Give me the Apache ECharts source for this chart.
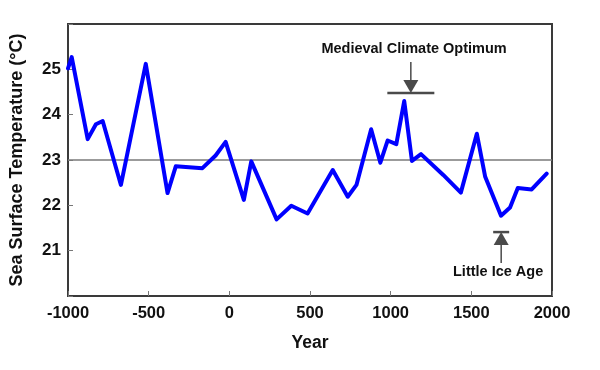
<!DOCTYPE html>
<html>
<head>
<meta charset="utf-8">
<script src="https://cdn.jsdelivr.net/npm/echarts@6/dist/echarts.min.js"></script>
<style>
html,body{margin:0;padding:0;background:#fff;}
#chart{width:600px;height:370px;}
</style>
</head>
<body>
<div id="chart"></div>
<script>
// ---- data ----
const years = [-1000, -977, -878, -827, -785, -672, -518, -383, -332, -167, -85, -23, 90, 136, 293, 384, 485,
  641, 734, 788, 879, 936, 981, 1035, 1084, 1132, 1188, 1326, 1435, 1534, 1586, 1684, 1740, 1788, 1874, 1967];
const temps = [25.02, 25.27, 23.46, 23.79, 23.86, 22.45, 25.12, 22.27, 22.86, 22.82, 23.10, 23.40, 22.12, 22.97, 21.69, 21.99, 21.82,
  22.78, 22.19, 22.45, 23.68, 22.94, 23.43, 23.35, 24.30, 22.98, 23.13, 22.67, 22.28, 23.58, 22.63, 21.77, 21.95, 22.38, 22.35, 22.70];
const xTickValues = [-1000, -500, 0, 500, 1000, 1500, 2000];
const yTickValues = [21, 22, 23, 24, 25];
const yRange = [20, 26];
const referenceTemp = [23];

const annotationTexts = ['Medieval Climate Optimum', 'Little Ice Age'];
const annotationYears = [1125, 1685];
const annotationBarTemps = [24.48, 21.41];
const annotationTailTemps = [25.16, 20.73];
const annotationTextYears = [1145, 1666];
const annotationTextTemps = [25.44, 20.53];

// ---- styles ----
const FONT = '"Liberation Sans", Arial, Helvetica, sans-serif';
const barHalfWidths = [23.5, 8];
const ANN_COLOR = '#4a4a4a';

const chart = echarts.init(document.getElementById('chart'), null, {renderer: 'canvas'});

const seriesData = years.map((y, i) => [y, temps[i]]);
const xMin = xTickValues[0], xMax = xTickValues[xTickValues.length - 1];

chart.setOption({
  animation: false,
  backgroundColor: '#fff',
  grid: {left: 67, top: 24, width: 485, height: 272, show: true, borderColor: '#3a3a3a', borderWidth: 2, backgroundColor: 'transparent'},
  xAxis: {
    type: 'value', min: xMin, max: xMax, interval: xTickValues[1] - xTickValues[0],
    name: 'Year', nameLocation: 'middle', nameGap: 38,
    nameTextStyle: {fontFamily: FONT, fontWeight: 'bold', fontSize: 17.5, color: '#111'},
    axisLine: {show: true, onZero: false, lineStyle: {color: '#3a3a3a', width: 2}},
    axisTick: {show: true, inside: true, length: 5, lineStyle: {color: '#777', width: 1}},
    axisLabel: {fontFamily: FONT, fontWeight: 'bold', fontSize: 16.5, color: '#111', margin: 9,
      formatter: v => xTickValues.includes(v) ? String(v) : ''},
    splitLine: {show: false}
  },
  yAxis: {
    type: 'value', min: yRange[0], max: yRange[1], interval: 1,
    name: 'Sea Surface Temperature (°C)', nameLocation: 'middle', nameGap: 42, nameRotate: 90,
    nameTextStyle: {fontFamily: FONT, fontWeight: 'bold', fontSize: 18, color: '#111'},
    axisLine: {show: true, onZero: false, lineStyle: {color: '#3a3a3a', width: 2}},
    axisTick: {show: true, inside: true, length: 5, lineStyle: {color: '#777', width: 1}},
    axisLabel: {fontFamily: FONT, fontWeight: 'bold', fontSize: 17, color: '#111', margin: 7,
      formatter: v => yTickValues.includes(v) ? String(v) : ''},
    splitLine: {show: false}
  },
  series: [
    {
      type: 'line', z: 1, silent: true, symbol: 'none',
      data: [[xMin, referenceTemp[0]], [xMax, referenceTemp[0]]],
      lineStyle: {color: '#7a7a7a', width: 1.5}
    },
    {
      type: 'line', z: 3, symbol: 'none', data: seriesData,
      lineStyle: {color: '#0000ff', width: 4, join: 'round', cap: 'round'}
    }
  ]
});

// annotations positioned from data coordinates
const graphics = [];
annotationTexts.forEach((txt, i) => {
  const [ax, barY] = chart.convertToPixel({gridIndex: 0}, [annotationYears[i], annotationBarTemps[i]]);
  const [, tailY] = chart.convertToPixel({gridIndex: 0}, [annotationYears[i], annotationTailTemps[i]]);
  const [tx, ty] = chart.convertToPixel({gridIndex: 0}, [annotationTextYears[i], annotationTextTemps[i]]);
  const dir = barY > tailY ? 1 : -1;
  const triH = 13, triW = 7.5, hw = barHalfWidths[i];
  const baseY = barY - dir * triH;
  graphics.push({type: 'line', z: 10, shape: {x1: ax - hw, y1: barY, x2: ax + hw, y2: barY}, style: {stroke: ANN_COLOR, lineWidth: 2.5}});
  graphics.push({type: 'polygon', z: 10, shape: {points: [[ax, barY], [ax - triW, baseY], [ax + triW, baseY]]}, style: {fill: ANN_COLOR}});
  graphics.push({type: 'line', z: 10, shape: {x1: ax, y1: tailY, x2: ax, y2: baseY}, style: {stroke: ANN_COLOR, lineWidth: 1.5}});
  graphics.push({type: 'text', z: 10, style: {text: txt, x: tx, y: ty, align: 'center', verticalAlign: 'middle',
    font: 'bold 14.5px ' + FONT, fill: '#111'}});
});
chart.setOption({graphic: graphics});
</script>
</body>
</html>
